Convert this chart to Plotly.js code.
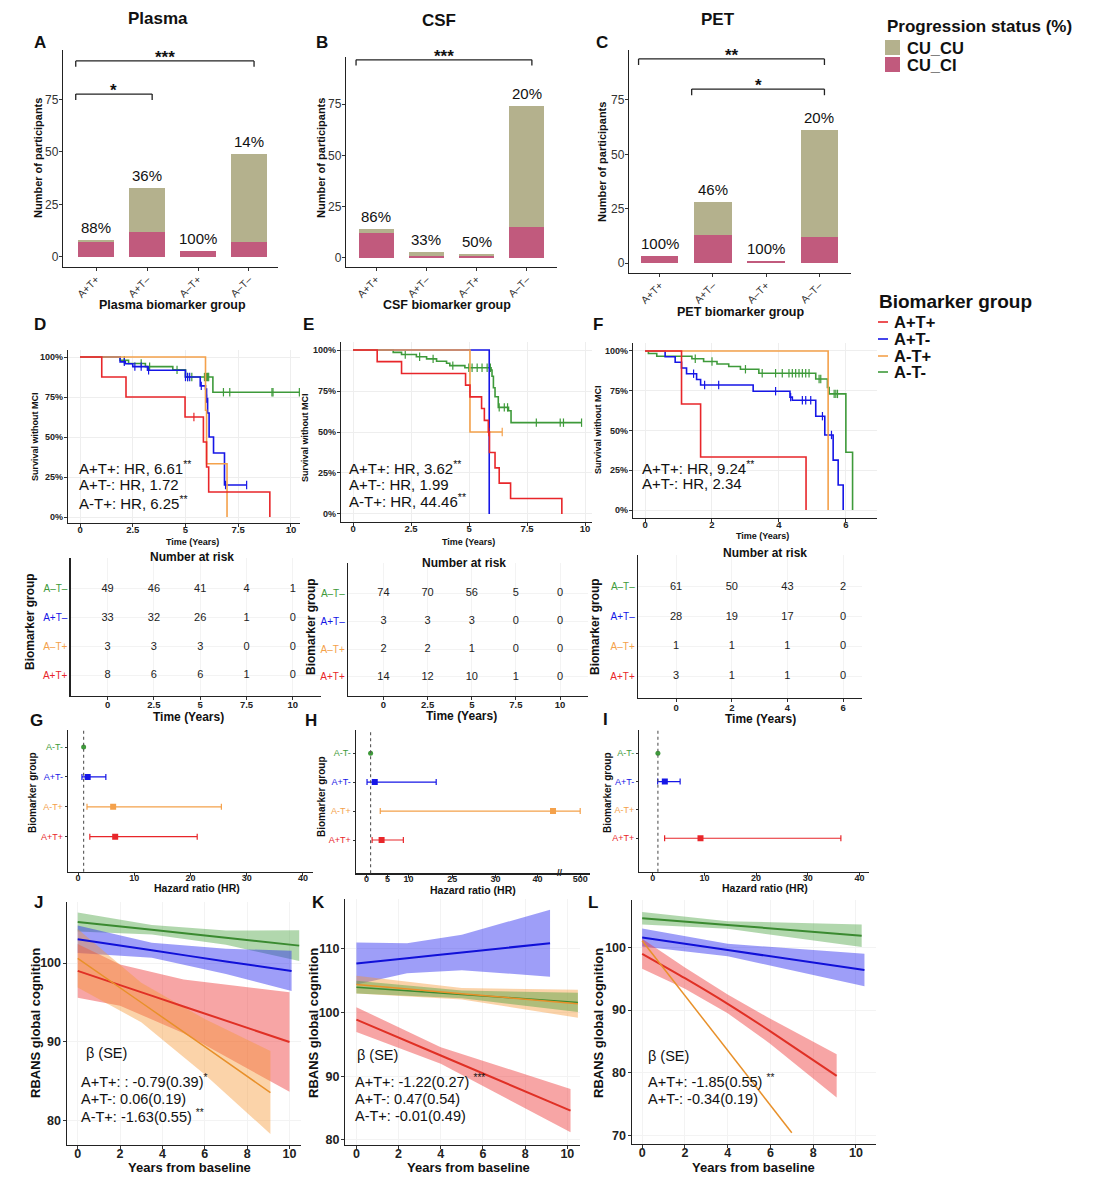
<!DOCTYPE html>
<html><head><meta charset="utf-8">
<script src="https://cdn.plot.ly/plotly-3.0.1.min.js"></script>
<style>body{margin:0;background:#fff}#chart{width:1094px;height:1200px}</style>
</head><body><div id="chart"></div>
<script>
// ================= DATA =================
const barGroups = ['A+T+', 'A+T–', 'A–T+', 'A–T–'];
const plasmaCI = [7, 12, 3, 7];
const plasmaCU = [1, 21, 0, 42];
const csfCI = [12, 1, 1, 15];
const csfCU = [2, 2, 1, 59];
const petCI = [3, 13, 1, 12];
const petCU = [0, 15, 0, 49];
// significance brackets: group index from/to, bracket height, label
const plasmaSig = [{from:0, to:3, y:93.3, label:'***'}, {from:0, to:1, y:77.5, label:'*'}];
const csfSig = [{from:0, to:3, y:96.6, label:'***'}];
const petSig = [{from:0, to:3, y:93.9, label:'**'}, {from:1, to:3, y:80, label:'*'}];

// Kaplan-Meier (time in years, survival proportion, censor times)
const plasma_ApTp_time = [0, 1.03, 2.18, 4.98, 5.85, 6.0, 6.1, 9.0];
const plasma_ApTp_surv = [1, 0.875, 0.75, 0.625, 0.469, 0.313, 0.156, 0];
const plasma_ApTp_cens = [5.4];
const plasma_ApTm_time = [0, 1.9, 2.15, 2.5, 3.2, 5.0, 5.7, 5.95, 6.0, 6.05, 6.12, 6.33, 6.85, 7.9];
const plasma_ApTm_surv = [1, 0.97, 0.958, 0.94, 0.917, 0.875, 0.82, 0.80, 0.74, 0.65, 0.50, 0.40, 0.20, 0.20];
const plasma_ApTm_cens = [2.1, 2.6, 2.9, 3.25, 5.0, 5.1, 5.2, 5.75, 6.0, 6.9, 7.9];
const plasma_AmTp_time = [0, 5.95, 6.0, 6.97];
const plasma_AmTp_surv = [1, 0.667, 0.333, 0];
const plasma_AmTp_cens = [];
const plasma_AmTm_time = [0, 1.9, 2.3, 3.1, 4.4, 5.0, 6.3, 10.4];
const plasma_AmTm_surv = [1, 0.98, 0.96, 0.94, 0.92, 0.875, 0.78, 0.78];
const plasma_AmTm_cens = [2.1, 2.9, 3.3, 4.6, 5.1, 5.3, 5.9, 5.95, 6.0, 6.05, 6.1, 6.8, 7.1, 9.1, 9.15, 10.4];

const csf_ApTp_time = [0, 1.04, 2.09, 4.85, 5.04, 5.54, 5.66, 5.83, 5.88, 6.12, 6.3, 6.79, 9.0];
const csf_ApTp_surv = [1, 0.929, 0.857, 0.786, 0.714, 0.643, 0.571, 0.5, 0.375, 0.281, 0.188, 0.094, 0];
const csf_ApTp_cens = [5.85];
const csf_ApTm_time = [0, 5.87];
const csf_ApTm_surv = [1, 0];
const csf_ApTm_cens = [];
const csf_AmTp_time = [0, 5.04, 6.43];
const csf_AmTp_surv = [1, 0.5, 0.5];
const csf_AmTp_cens = [6.43];
const csf_AmTm_time = [0, 1.73, 2.09, 2.73, 3.17, 3.6, 4.03, 4.17, 4.82, 5.95, 5.99, 6.05, 6.12, 6.26, 6.7, 6.81, 9.85];
const csf_AmTm_surv = [1, 0.986, 0.973, 0.959, 0.946, 0.932, 0.919, 0.905, 0.892, 0.878, 0.84, 0.77, 0.715, 0.65, 0.63, 0.557, 0.557];
const csf_AmTm_cens = [2.25, 2.87, 3.45, 4.3, 4.99, 5.13, 5.35, 5.56, 5.78, 5.92, 6.3, 6.52, 6.66, 7.9, 8.93, 9.07, 9.85];

const pet_ApTp_time = [0, 1.09, 1.66, 4.81];
const pet_ApTp_surv = [1, 0.667, 0.333, 0];
const pet_ApTp_cens = [];
const pet_ApTm_time = [0, 0.6, 0.9, 1.09, 1.24, 1.54, 1.66, 3.23, 4.33, 4.4, 5.1, 5.37, 5.62, 5.77, 5.92];
const pet_ApTm_surv = [1, 0.964, 0.929, 0.893, 0.857, 0.821, 0.786, 0.747, 0.71, 0.69, 0.59, 0.472, 0.314, 0.157, 0];
const pet_ApTm_cens = [1.45, 1.78, 2.2, 3.9, 4.35, 4.7, 4.8, 4.95, 5.3, 5.57];
const pet_AmTp_time = [0, 5.47];
const pet_AmTp_surv = [1, 0];
const pet_AmTp_cens = [];
const pet_AmTm_time = [0, 0.1, 0.35, 1.4, 1.75, 2.15, 2.5, 2.85, 3.4, 5.1, 5.45, 5.5, 6.0, 6.2];
const pet_AmTm_surv = [1, 0.984, 0.967, 0.951, 0.934, 0.918, 0.902, 0.885, 0.86, 0.824, 0.77, 0.73, 0.363, 0];
const pet_AmTm_cens = [1.5, 2.0, 3.0, 3.5, 3.9, 4.1, 4.3, 4.4, 4.5, 4.6, 4.7, 4.8, 4.9, 5.2, 5.25, 5.65, 5.7, 5.75];

// Hazard ratios (text in KM panels)
const plasmaHR = [6.61, 1.72, 6.25];          // A+T+, A+T-, A-T+
const plasmaHRsig = ['**', '', '**'];
const csfHR = [3.62, 1.99, 44.46];
const csfHRsig = ['**', '', '**'];
const petHR = [9.24, 2.34];
const petHRsig = ['**', ''];

// Number at risk
const riskTimesPlasma = [0, 2.5, 5, 7.5, 10];
const riskPlasma_AmTm = [49, 46, 41, 4, 1];
const riskPlasma_ApTm = [33, 32, 26, 1, 0];
const riskPlasma_AmTp = [3, 3, 3, 0, 0];
const riskPlasma_ApTp = [8, 6, 6, 1, 0];
const riskTimesCSF = [0, 2.5, 5, 7.5, 10];
const riskCSF_AmTm = [74, 70, 56, 5, 0];
const riskCSF_ApTm = [3, 3, 3, 0, 0];
const riskCSF_AmTp = [2, 2, 1, 0, 0];
const riskCSF_ApTp = [14, 12, 10, 1, 0];
const riskTimesPET = [0, 2, 4, 6];
const riskPET_AmTm = [61, 50, 43, 2];
const riskPET_ApTm = [28, 19, 17, 0];
const riskPET_AmTp = [1, 1, 1, 0];
const riskPET_ApTp = [3, 1, 1, 0];

// Forest plots: order A+T+, A-T+, A+T-, A-T- (bottom to top)
const forestGroups = ['A+T+', 'A-T+', 'A+T-', 'A-T-'];
const forestPlasma_hr = [6.61, 6.25, 1.72, 1];
const forestPlasma_lo = [2.1, 1.6, 0.7, null];
const forestPlasma_hi = [21.2, 25.5, 4.95, null];
const forestCSF_hr = [3.62, 44.46, 1.99, 1];
const forestCSF_lo = [1.36, 3.3, 0.15, null];
const forestCSF_hi = [8.8, 500, 19.5, null];
const forestPET_hr = [9.24, null, 2.34, 1];
const forestPET_lo = [2.3, null, 0.95, null];
const forestPET_hi = [36.4, null, 5.3, null];

// RBANS trajectories (x years, fitted, lower, upper)
const rbPlasma_AmTm_x = [0, 3.5, 7, 10.46];
const rbPlasma_AmTm_fit = [105.2, 104.2, 103.2, 102.2];
const rbPlasma_AmTm_lo = [104.0, 103.6, 102.3, 100.25];
const rbPlasma_AmTm_hi = [106.4, 104.8, 104.1, 104.15];
const rbPlasma_ApTm_x = [0, 3.5, 7, 10.1];
const rbPlasma_ApTm_fit = [103.0, 101.6, 100.2, 99.0];
const rbPlasma_ApTm_lo = [101.25, 100.65, 98.6, 96.45];
const rbPlasma_ApTm_hi = [104.75, 102.55, 101.8, 101.55];
const rbPlasma_ApTp_x = [0, 2, 5, 10];
const rbPlasma_ApTp_fit = [99.0, 97.2, 94.5, 90.0];
const rbPlasma_ApTp_lo = [95.6, 94.6, 91.1, 83.7];
const rbPlasma_ApTp_hi = [102.4, 99.8, 97.9, 96.3];
const rbPlasma_AmTp_x = [0, 3, 6, 9.1];
const rbPlasma_AmTp_fit = [100.6, 95.0, 89.4, 83.6];
const rbPlasma_AmTp_lo = [96.9, 92.5, 85.9, 78.35];
const rbPlasma_AmTp_hi = [104.3, 97.5, 92.9, 88.85];

const rbCSF_ApTm_x = [0, 2.4, 5, 9.18];
const rbCSF_ApTm_fit = [107.7, 108.54, 109.45, 110.9];
const rbCSF_ApTm_lo = [104.4, 106.2, 106.65, 105.65];
const rbCSF_ApTm_hi = [111.0, 110.9, 112.25, 116.15];
const rbCSF_AmTp_x = [0, 5, 10.5];
const rbCSF_AmTp_fit = [104.4, 102.97, 101.4];
const rbCSF_AmTp_lo = [103.0, 102.07, 99.2];
const rbCSF_AmTp_hi = [105.8, 103.87, 103.6];
const rbCSF_AmTm_x = [0, 5, 10.5];
const rbCSF_AmTm_fit = [104.0, 102.86, 101.6];
const rbCSF_AmTm_lo = [103.0, 102.26, 100.1];
const rbCSF_AmTm_hi = [105.0, 103.46, 103.1];
const rbCSF_ApTp_x = [0, 4, 10.15];
const rbCSF_ApTp_fit = [98.9, 93.26, 84.6];
const rbCSF_ApTp_lo = [96.95, 91.96, 81.2];
const rbCSF_ApTp_hi = [100.85, 94.56, 88.0];

const rbPET_AmTm_x = [0, 4, 10.27];
const rbPET_AmTm_fit = [104.7, 103.61, 101.9];
const rbPET_AmTm_lo = [103.7, 103.01, 100.1];
const rbPET_AmTm_hi = [105.7, 104.21, 103.7];
const rbPET_ApTm_x = [0, 4, 10.4];
const rbPET_ApTm_fit = [101.6, 99.6, 96.4];
const rbPET_ApTm_lo = [100.15, 98.6, 93.8];
const rbPET_ApTm_hi = [103.05, 100.6, 99.0];
const rbPET_ApTp_x = [0, 2, 4, 6, 9.1];
const rbPET_ApTp_fit = [99.0, 95.1, 91.0, 86.6, 79.5];
const rbPET_ApTp_lo = [96.6, 93.4, 89.5, 84.6, 76.05];
const rbPET_ApTp_hi = [101.4, 96.8, 92.5, 88.6, 82.95];
const rbPET_AmTp_x = [0, 7];
const rbPET_AmTp_fit = [101.1, 70.4];

const betaPlasma = ['A+T+: : -0.79(0.39)<sup>*</sup>', 'A+T-: 0.06(0.19)', 'A-T+: -1.63(0.55) <sup>**</sup>'];
const betaCSF = ['A+T+: -1.22(0.27) <sup>***</sup>', 'A+T-: 0.47(0.54)', 'A-T+: -0.01(0.49)'];
const betaPET = ['A+T+: -1.85(0.55) <sup>**</sup>', 'A+T-: -0.34(0.19)'];

// ================= STYLE / HELPERS =================
const W = 1094, H = 1200;
const FONT = 'Arial, "Liberation Sans", Helvetica, sans-serif';
const C_CU = '#B4B18D', C_CI = '#C15A7D';
const KM = {ApTp:'#E8262A', ApTm:'#1616E6', AmTp:'#F4A14B', AmTm:'#3E9A3A'};
const LN = {ApTp:'#E03025', ApTm:'#1010D8', AmTp:'#E8902A', AmTm:'#3A8A30'};
const BAND = {ApTp:'rgba(235,40,40,0.42)', ApTm:'rgba(40,40,240,0.45)', AmTp:'rgba(245,150,50,0.42)', AmTm:'rgba(70,160,60,0.42)'};
const GRID = '#eeeeee';
const AX = {showline:true, linecolor:'#222', linewidth:1.2, ticks:'outside', ticklen:3, tickwidth:1,
  tickcolor:'#333', zeroline:false, showgrid:false, fixedrange:true};
const BOLD = (s) => ({size:s, family:FONT, color:'#222', weight:'bold'});

const layout = {width:W, height:H, margin:{l:0, r:0, t:0, b:0}, paper_bgcolor:'#fff', plot_bgcolor:'#fff',
  showlegend:false, barmode:'stack', bargap:0.3, font:{family:FONT, color:'#222'}, annotations:[], shapes:[]};
const traces = [];

function dom(x0, x1) { return [x0 / W, x1 / W]; }
function ydom(t, b) { return [1 - b / H, 1 - t / H]; }
function ids(n) { return n === 1 ? ['x', 'y'] : ['x' + n, 'y' + n]; }
function setAxes(n, xpx, ypx, xo, yo) {
  const [xid, yid] = ids(n);
  layout[n === 1 ? 'xaxis' : 'xaxis' + n] = Object.assign({}, AX, {domain:dom(xpx[0], xpx[1]), anchor:yid}, xo);
  layout[n === 1 ? 'yaxis' : 'yaxis' + n] = Object.assign({}, AX, {domain:ydom(ypx[0], ypx[1]), anchor:xid}, yo);
}
function T(text, x, y, size, o) {
  layout.annotations.push(Object.assign({text:text, x:x / W, y:1 - y / H, xref:'paper', yref:'paper', showarrow:false,
    xanchor:'center', yanchor:'middle', font:{size:size, family:FONT, color:'#111'}}, o || {}));
}

// ================= BARS (A, B, C) =================
function barPanel(n, ci, cu, sig, xpx, ypx, xr, yr) {
  const [xid, yid] = ids(n);
  setAxes(n, xpx, ypx,
    {type:'category', range:xr, tickangle:-45, ticklabelstandoff:-2, tickfont:{size:10.5, color:'#333', family:FONT}},
    {range:yr, tickvals:[0, 25, 50, 75], ticklabelstandoff:-2, tickfont:{size:12, color:'#333', family:FONT}});
  traces.push({type:'bar', x:barGroups, y:ci, xaxis:xid, yaxis:yid, marker:{color:C_CI}, width:0.7, hoverinfo:'skip'});
  traces.push({type:'bar', x:barGroups, y:cu, xaxis:xid, yaxis:yid, marker:{color:C_CU}, width:0.7, hoverinfo:'skip'});
  barGroups.forEach((g, i) => {
    const tot = ci[i] + cu[i];
    layout.annotations.push({text:Math.round(100 * ci[i] / tot) + '%', x:i, y:tot, xref:xid, yref:yid,
      showarrow:false, yanchor:'bottom', yshift:2, font:{size:15, family:FONT, color:'#111'}});
  });
  sig.forEach(s => {
    const x0 = s.from - 0.4, x1 = s.to + 0.1, tip = s.y - 2.8;
    const ln = {type:'line', xref:xid, yref:yid, line:{color:'#222', width:1.3}};
    layout.shapes.push(Object.assign({x0:x0, x1:x1, y0:s.y, y1:s.y}, ln));
    layout.shapes.push(Object.assign({x0:x0, x1:x0, y0:tip, y1:s.y}, ln));
    layout.shapes.push(Object.assign({x0:x1, x1:x1, y0:tip, y1:s.y}, ln));
    layout.annotations.push({text:'<b>' + s.label + '</b>', x:(x0 + x1) / 2, y:s.y, xref:xid, yref:yid, showarrow:false,
      yanchor:'bottom', yshift:-8, font:{size:17, family:FONT, color:'#111'}});
  });
}
barPanel(1, plasmaCI, plasmaCU, plasmaSig, [63, 278], [50, 267], [-0.65, 3.57], [-4.8, 98.5]);
barPanel(2, csfCI, csfCU, csfSig, [346, 557], [57, 267], [-0.6, 3.6], [-4.4, 98]);
barPanel(3, petCI, petCU, petSig, [629, 851], [50, 273], [-0.58, 3.6], [-4.6, 98]);

// ================= KAPLAN-MEIER (D, E, F) =================
function survAt(time, surv, t) { let s = surv[0]; for (let i = 0; i < time.length; i++) if (time[i] <= t) s = surv[i]; return s; }
function kmCurve(n, time, surv, cens, color) {
  const [xid, yid] = ids(n);
  traces.push({x:time, y:surv, mode:'lines', line:{shape:'hv', color:color, width:1.6}, xaxis:xid, yaxis:yid, hoverinfo:'skip'});
  if (cens.length) traces.push({x:cens, y:cens.map(t => survAt(time, surv, t)), mode:'markers', xaxis:xid, yaxis:yid,
    marker:{symbol:'line-ns', size:6, line:{width:1.2, color:color}}, hoverinfo:'skip'});
}
function kmAxes(n, xpx, ypx, xr, yr, xt) {
  setAxes(n, xpx, ypx,
    {range:xr, tickvals:xt, showgrid:true, gridcolor:GRID, ticklabelstandoff:-6, tickfont:BOLD(9.5)},
    {range:yr, tickvals:[0, 0.25, 0.5, 0.75, 1], ticktext:['0%', '25%', '50%', '75%', '100%'], ticklabelstandoff:-1,
     showgrid:true, gridcolor:GRID, tickfont:BOLD(9)});
}
kmAxes(4, [68, 300], [350, 523], [-0.57, 10.43], [-0.0375, 1.044], [0, 2.5, 5, 7.5, 10]);
kmCurve(4, plasma_AmTm_time, plasma_AmTm_surv, plasma_AmTm_cens, KM.AmTm);
kmCurve(4, plasma_ApTm_time, plasma_ApTm_surv, plasma_ApTm_cens, KM.ApTm);
kmCurve(4, plasma_AmTp_time, plasma_AmTp_surv, plasma_AmTp_cens, KM.AmTp);
kmCurve(4, plasma_ApTp_time, plasma_ApTp_surv, plasma_ApTp_cens, KM.ApTp);

kmAxes(5, [341, 592], [342, 522], [-0.52, 10.3], [-0.049, 1.049], [0, 2.5, 5, 7.5, 10]);
kmCurve(5, csf_AmTm_time, csf_AmTm_surv, csf_AmTm_cens, KM.AmTm);
kmCurve(5, csf_ApTm_time, csf_ApTm_surv, csf_ApTm_cens, KM.ApTm);
kmCurve(5, csf_AmTp_time, csf_AmTp_surv, csf_AmTp_cens, KM.AmTp);
kmCurve(5, csf_ApTp_time, csf_ApTp_surv, csf_ApTp_cens, KM.ApTp);

kmAxes(6, [633, 877], [343, 518], [-0.36, 6.93], [-0.05, 1.05], [0, 2, 4, 6]);
kmCurve(6, pet_AmTm_time, pet_AmTm_surv, pet_AmTm_cens, KM.AmTm);
kmCurve(6, pet_ApTm_time, pet_ApTm_surv, pet_ApTm_cens, KM.ApTm);
kmCurve(6, pet_AmTp_time, pet_AmTp_surv, pet_AmTp_cens, KM.AmTp);
kmCurve(6, pet_ApTp_time, pet_ApTp_surv, pet_ApTp_cens, KM.ApTp);

const hrNames = ['A+T+', 'A+T-', 'A-T+'];
function hrText(hr, sig, x, ys) {
  hr.forEach((v, i) => T(hrNames[i] + ': HR, ' + v.toFixed(2) + (sig[i] ? '<sup>' + sig[i] + '</sup>' : ''), x, ys[i], 15, {xanchor:'left'}));
}
hrText(plasmaHR, plasmaHRsig, 77, [467, 484.5, 502]);
hrText(csfHR, csfHRsig, 347, [467, 484, 500.5]);
hrText(petHR, petHRsig, 640, [467, 483.5]);

// ================= NUMBER AT RISK =================
const rowCols = [KM.ApTp, KM.AmTp, KM.ApTm, KM.AmTm];
const rowLabels = ['A+T+', 'A–T+', 'A+T–', 'A–T–'];
function riskPanel(n, xpx, ypx, xr, yr, times, rows) {
  const [xid, yid] = ids(n);
  setAxes(n, xpx, ypx,
    {range:xr, tickvals:times, showgrid:true, gridcolor:'#f3f3f3', ticklabelstandoff:-3, tickfont:BOLD(9.5)},
    {range:yr, tickvals:[0, 1, 2, 3], ticks:'', showgrid:true, gridcolor:'#f3f3f3',
     ticktext:rowLabels.map((l, i) => '<span style="color:' + rowCols[i] + '">' + l + '</span>'), tickfont:{size:10, family:FONT}});
  rows.forEach((r, i) => traces.push({x:times, y:times.map(() => i), mode:'text', text:r.map(String), xaxis:xid, yaxis:yid,
    textfont:{size:11, family:FONT, color:'#222'}, hoverinfo:'skip'}));
}
riskPanel(7, [70.6, 320.6], [558, 695.7], [-2.0, 11.5], [-0.69, 4.07], riskTimesPlasma,
  [riskPlasma_ApTp, riskPlasma_AmTp, riskPlasma_ApTm, riskPlasma_AmTm]);
riskPanel(8, [348, 587.8], [563, 695.7], [-2.01, 11.57], [-0.68, 4.1], riskTimesCSF,
  [riskCSF_ApTp, riskCSF_AmTp, riskCSF_ApTm, riskCSF_AmTm]);
riskPanel(9, [638, 862], [555, 698], [-1.37, 6.68], [-0.71, 4.06], riskTimesPET,
  [riskPET_ApTp, riskPET_AmTp, riskPET_ApTm, riskPET_AmTm]);

// ================= FOREST (G, H, I) =================
const hrKnots = [0, 5, 10, 25, 30, 40, 46, 500];      // broken axis of panel H
const posKnots = [0, 21, 42, 85.9, 129, 171, 192, 213.8];
function brokenPos(v) {
  for (let i = 1; i < hrKnots.length; i++) if (v <= hrKnots[i])
    return posKnots[i - 1] + (v - hrKnots[i - 1]) / (hrKnots[i] - hrKnots[i - 1]) * (posKnots[i] - posKnots[i - 1]);
  return posKnots[posKnots.length - 1];
}
const ident = v => v;
function forestPanel(n, xpx, ypx, xr, yr, hr, lo, hi, tf, xticks) {
  const [xid, yid] = ids(n);
  const xo = {range:xr, ticklabelstandoff:-6, tickfont:BOLD(9)};
  if (tf === ident) xo.tickvals = xticks; else { xo.tickvals = xticks.map(tf); xo.ticktext = xticks.map(String); }
  setAxes(n, xpx, ypx, xo,
    {range:yr, tickvals:[0, 1, 2, 3], ticks:'outside', ticklen:2,
     ticktext:forestGroups.map((g, i) => '<span style="color:' + rowCols[i] + '">' + g + '</span>'), tickfont:{size:9, family:FONT}});
  layout.shapes.push({type:'line', xref:xid, yref:yid + ' domain', x0:tf(1), x1:tf(1), y0:0, y1:1,
    line:{color:'#555', width:1.1, dash:'dot'}});
  hr.forEach((v, i) => {
    if (v === null) return;
    const t = {x:[tf(v)], y:[i], mode:'markers', xaxis:xid, yaxis:yid, hoverinfo:'skip',
      marker:{symbol:lo[i] === null ? 'circle' : 'square', size:lo[i] === null ? 5 : 6, color:rowCols[i]}};
    if (lo[i] !== null) t.error_x = {type:'data', symmetric:false, array:[tf(hi[i]) - tf(v)], arrayminus:[tf(v) - tf(lo[i])],
      color:rowCols[i], thickness:1.2, width:3};
    traces.push(t);
  });
}
forestPanel(10, [67.9, 313], [730, 871.7], [-1.8, 41.8], [-1.17, 3.57], forestPlasma_hr, forestPlasma_lo, forestPlasma_hi, ident, [0, 10, 20, 30, 40]);
forestPanel(11, [355.7, 589.7], [730, 873.3], [-10.7, 223.3], [-1.15, 3.8], forestCSF_hr, forestCSF_lo, forestCSF_hi, brokenPos, [0, 5, 10, 25, 30, 40, 500]);
forestPanel(12, [639.3, 869.3], [730, 871.7], [-2.6, 41.9], [-1.18, 3.82], forestPET_hr, forestPET_lo, forestPET_hi, ident, [0, 10, 20, 30, 40]);
layout.annotations.push({text:'<b>//</b>', x:brokenPos(46) + 2, y:0, xref:'x11', yref:'y11 domain', showarrow:false,
  yanchor:'middle', font:{size:9, family:FONT, color:'#222'}});

// ================= RBANS (J, K, L) =================
function rbAxes(n, xpx, ypx, xr, yr, yt) {
  setAxes(n, xpx, ypx,
    {range:xr, tickvals:[0, 2, 4, 6, 8, 10], showgrid:true, gridcolor:'#f3f3f3', ticklabelstandoff:-6, tickfont:BOLD(12.5)},
    {range:yr, tickvals:yt, showgrid:true, gridcolor:'#f3f3f3', ticklabelstandoff:-1, tickfont:BOLD(12.5)});
}
function rbBand(n, x, lo, hi, key) {
  const [xid, yid] = ids(n);
  traces.push({x:x.concat(x.slice().reverse()), y:hi.concat(lo.slice().reverse()), mode:'lines', fill:'toself',
    fillcolor:BAND[key], line:{width:0}, xaxis:xid, yaxis:yid, hoverinfo:'skip'});
}
function rbLine(n, x, fit, key, w) {
  const [xid, yid] = ids(n);
  traces.push({x:x, y:fit, mode:'lines', line:{color:LN[key], width:w || 2, shape:'spline', smoothing:0.6}, xaxis:xid, yaxis:yid, hoverinfo:'skip'});
}
rbAxes(13, [66.7, 300.7], [901.7, 1145], [-0.52, 10.53], [76.96, 107.76], [80, 90, 100]);
rbBand(13, rbPlasma_AmTm_x, rbPlasma_AmTm_lo, rbPlasma_AmTm_hi, 'AmTm');
rbBand(13, rbPlasma_ApTm_x, rbPlasma_ApTm_lo, rbPlasma_ApTm_hi, 'ApTm');
rbBand(13, rbPlasma_ApTp_x, rbPlasma_ApTp_lo, rbPlasma_ApTp_hi, 'ApTp');
rbBand(13, rbPlasma_AmTp_x, rbPlasma_AmTp_lo, rbPlasma_AmTp_hi, 'AmTp');
rbLine(13, rbPlasma_AmTm_x, rbPlasma_AmTm_fit, 'AmTm');
rbLine(13, rbPlasma_ApTm_x, rbPlasma_ApTm_fit, 'ApTm');
rbLine(13, rbPlasma_ApTp_x, rbPlasma_ApTp_fit, 'ApTp');
rbLine(13, rbPlasma_AmTp_x, rbPlasma_AmTp_fit, 'AmTp', 1.5);

rbAxes(14, [345.2, 579.6], [899.3, 1145], [-0.53, 10.58], [79.2, 117.8], [80, 90, 100, 110]);
rbBand(14, rbCSF_ApTm_x, rbCSF_ApTm_lo, rbCSF_ApTm_hi, 'ApTm');
rbBand(14, rbCSF_AmTp_x, rbCSF_AmTp_lo, rbCSF_AmTp_hi, 'AmTp');
rbBand(14, rbCSF_AmTm_x, rbCSF_AmTm_lo, rbCSF_AmTm_hi, 'AmTm');
rbBand(14, rbCSF_ApTp_x, rbCSF_ApTp_lo, rbCSF_ApTp_hi, 'ApTp');
rbLine(14, rbCSF_ApTm_x, rbCSF_ApTm_fit, 'ApTm');
rbLine(14, rbCSF_AmTm_x, rbCSF_AmTm_fit, 'AmTm', 1.5);
rbLine(14, rbCSF_AmTp_x, rbCSF_AmTp_fit, 'AmTp', 1.5);
rbLine(14, rbCSF_ApTp_x, rbCSF_ApTp_fit, 'ApTp');

rbAxes(15, [631.7, 876], [900, 1144], [-0.49, 10.94], [68.6, 107.6], [70, 80, 90, 100]);
rbBand(15, rbPET_AmTm_x, rbPET_AmTm_lo, rbPET_AmTm_hi, 'AmTm');
rbBand(15, rbPET_ApTm_x, rbPET_ApTm_lo, rbPET_ApTm_hi, 'ApTm');
rbBand(15, rbPET_ApTp_x, rbPET_ApTp_lo, rbPET_ApTp_hi, 'ApTp');
rbLine(15, rbPET_AmTm_x, rbPET_AmTm_fit, 'AmTm');
rbLine(15, rbPET_ApTm_x, rbPET_ApTm_fit, 'ApTm');
rbLine(15, rbPET_ApTp_x, rbPET_ApTp_fit, 'ApTp');
rbLine(15, rbPET_AmTp_x, rbPET_AmTp_fit, 'AmTp', 1.5);

function betaText(lines, xb, yb, xl, ys) {
  T('β (SE)', xb, yb, 14.5, {xanchor:'left'});
  lines.forEach((l, i) => T(l, xl, ys[i], 14.5, {xanchor:'left'}));
}
betaText(betaPlasma, 84, 1053, 79, [1081, 1098.5, 1116]);
betaText(betaCSF, 355, 1055, 353, [1081, 1098.5, 1116]);
betaText(betaPET, 646, 1056, 646, [1081, 1098.5]);

// ================= TEXT: titles, letters, axis titles =================
T('<b>Plasma</b>', 158, 18, 17); T('<b>CSF</b>', 439, 20, 17); T('<b>PET</b>', 718, 19, 17);
[['A', 40, 42], ['B', 322, 42], ['C', 602, 42], ['D', 40, 325], ['E', 308, 325], ['F', 598, 325],
 ['G', 36, 720], ['H', 311, 720], ['I', 605, 719], ['J', 39, 902], ['K', 318, 902], ['L', 593, 903]]
  .forEach(l => T('<b>' + l[0] + '</b>', l[1], l[2], 17));
const rot = {textangle:-90};
T('<b>Number of participants</b>', 38, 158, 11, rot);
T('<b>Number of participants</b>', 321, 158, 11, rot);
T('<b>Number of participants</b>', 602, 162, 11, rot);
T('<b>Plasma biomarker group</b>', 172, 305, 12.5);
T('<b>CSF biomarker group</b>', 447, 305, 12.5);
T('<b>PET biomarker group</b>', 740, 312, 12.5);
T('<b>Survival without MCI</b>', 35, 437, 9, rot);
T('<b>Survival without MCI</b>', 305, 437, 9, rot);
T('<b>Survival without MCI</b>', 598, 430, 9, rot);
T('<b>Time (Years)</b>', 192, 542, 9); T('<b>Time (Years)</b>', 468, 542, 9); T('<b>Time (Years)</b>', 762, 536, 9);
T('<b>Number at risk</b>', 192, 557, 12); T('<b>Number at risk</b>', 464, 563, 12); T('<b>Number at risk</b>', 765, 553, 12);
T('<b>Biomarker group</b>', 30, 622, 12, rot); T('<b>Biomarker group</b>', 311, 627, 12, rot); T('<b>Biomarker group</b>', 595, 627, 12, rot);
T('<b>Time (Years)</b>', 188, 717, 12); T('<b>Time (Years)</b>', 461, 716, 12); T('<b>Time (Years)</b>', 760, 719, 12);
T('<b>Biomarker group</b>', 32, 793, 10, rot); T('<b>Biomarker group</b>', 321, 797, 10, rot); T('<b>Biomarker group</b>', 607, 793, 10, rot);
T('<b>Hazard ratio (HR)</b>', 197, 888, 10.5); T('<b>Hazard ratio (HR)</b>', 473, 890, 10.5); T('<b>Hazard ratio (HR)</b>', 765, 888, 10.5);
T('<b>RBANS global cognition</b>', 35, 1023, 13, rot); T('<b>RBANS global cognition</b>', 313, 1023, 13, rot); T('<b>RBANS global cognition</b>', 598, 1023, 13, rot);
T('<b>Years from baseline</b>', 189, 1167, 13); T('<b>Years from baseline</b>', 468, 1167, 13); T('<b>Years from baseline</b>', 753, 1167, 13);

// ================= LEGENDS =================
T('<b>Progression status (%)</b>', 885, 27, 17, {xanchor:'left'});
[[C_CU, 'CU_CU', 40], [C_CI, 'CU_CI', 57]].forEach(it => {
  layout.shapes.push({type:'rect', xref:'paper', yref:'paper', x0:885 / W, x1:900 / W, y0:1 - (it[2] + 15) / H, y1:1 - it[2] / H,
    fillcolor:it[0], line:{width:0}});
  T('<b>' + it[1] + '</b>', 906, it[2] + 8, 16.5, {xanchor:'left', borderpad:0});
});
T('<b>Biomarker group</b>', 877, 301, 19, {xanchor:'left'});
[[KM.ApTp, 'A+T+', 322], [KM.ApTm, 'A+T-', 339], [KM.AmTp, 'A-T+', 356], [KM.AmTm, 'A-T-', 372]].forEach(it => {
  layout.shapes.push({type:'line', xref:'paper', yref:'paper', x0:878 / W, x1:888 / W, y0:1 - it[2] / H, y1:1 - it[2] / H,
    line:{color:it[0], width:1.6}});
  T('<b>' + it[1] + '</b>', 893, it[2], 16.5, {xanchor:'left', borderpad:0});
});

Plotly.newPlot('chart', traces, layout, {staticPlot:true});
</script>
</body></html>
